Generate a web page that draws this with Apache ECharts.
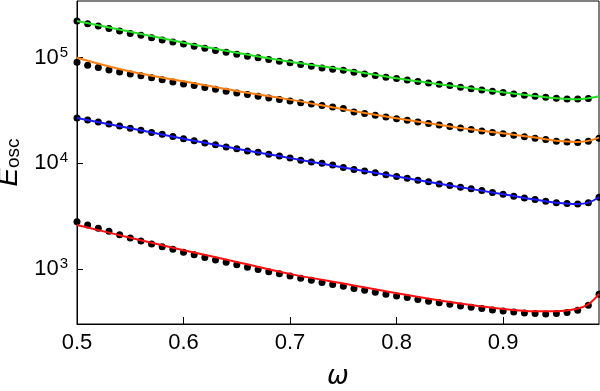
<!DOCTYPE html>
<html>
<head>
<meta charset="utf-8">
<script src="https://cdn.jsdelivr.net/npm/echarts@6/dist/echarts.min.js"></script>
<style>
  html, body { margin: 0; padding: 0; background: #fff; }
  #chart { width: 600px; height: 391px; }
</style>
</head>
<body>
<div id="chart"></div>
<script>
// sample points (black dots), omega = 0.50 ... 0.99
const dotX = [0.50, 0.51, 0.52, 0.53, 0.54, 0.55, 0.56, 0.57, 0.58, 0.59,
  0.60, 0.61, 0.62, 0.63, 0.64, 0.65, 0.66, 0.67, 0.68, 0.69,
  0.70, 0.71, 0.72, 0.73, 0.74, 0.75, 0.76, 0.77, 0.78, 0.79,
  0.80, 0.81, 0.82, 0.83, 0.84, 0.85, 0.86, 0.87, 0.88, 0.89,
  0.90, 0.91, 0.92, 0.93, 0.94, 0.95, 0.96, 0.97, 0.98, 0.99];

// green set has no dot at 0.99
const greenDots = [221000, 208000, 198000, 188000, 178000, 169000, 162000, 154000, 146000, 140000,
  134000, 128000, 122000, 116500, 112000, 107500, 103000, 99300, 95700, 92300,
  89100, 85900, 82800, 79800, 77400, 75800, 72600, 70000, 67500, 65000,
  63200, 61400, 59200, 57500, 55800, 54300, 52300, 50800, 49400, 48000,
  46600, 45300, 44000, 43000, 42100, 41100, 40600, 40600, 40900];
const orangeDots = [90300, 84500, 80400, 76400, 73100, 70000, 67100, 64200, 61500, 58800,
  56300, 54300, 52000, 50100, 48000, 46300, 44600, 43000, 41500, 40000,
  38900, 37400, 36400, 35100, 34000, 32900, 30500, 29500, 28400, 27400,
  26400, 25500, 24600, 23800, 23000, 22300, 21600, 20900, 20200, 19600,
  19000, 18400, 17800, 17300, 16800, 16200, 15900, 15700, 16200, 17300];
const blueDots = [26800, 25700, 24600, 23500, 22500, 21400, 20500, 19600, 18800, 17900,
  17100, 16300, 15600, 15000, 14300, 13700, 13100, 12700, 12200, 11700,
  11200, 10700, 10300, 10000, 9620, 9120, 8730, 8440, 8130, 7780,
  7500, 7240, 6930, 6680, 6390, 6160, 5950, 5740, 5520, 5290,
  5110, 4890, 4710, 4540, 4380, 4250, 4160, 4130, 4250, 4780];
const redDots = [2810, 2610, 2430, 2280, 2110, 1970, 1840, 1730, 1630, 1540,
  1440, 1370, 1290, 1220, 1160, 1100, 1040, 993, 943, 902,
  859, 822, 787, 748, 716, 690, 656, 632, 605, 580,
  558, 539, 516, 497, 480, 466, 449, 436, 424, 411,
  403, 394, 385, 380, 377, 380, 389, 409, 456, 580];

// fitted curves
const lineX = [0.50, 0.55, 0.60, 0.65, 0.70, 0.75, 0.80, 0.85, 0.90, 0.93, 0.95, 0.97, 0.98, 0.99];
const greenLine = [221000, 175000, 138000, 111000, 91100, 77000, 63600, 54300, 46900, 43300, 41200, 40300, 41200, 43000];
const orangeLine = [99300, 73600, 59600, 48300, 40000, 32400, 26600, 22300, 19200, 17500, 16300, 15900, 16300, 17500];
const blueLine = [26800, 21400, 17100, 13700, 11200, 9120, 7500, 6160, 5110, 4540, 4250, 4130, 4250, 4780];
const redLine = [2610, 1980, 1510, 1170, 902, 732, 593, 490, 421, 400, 400, 424, 466, 580];

const xTicks = [0.5, 0.6, 0.7, 0.8, 0.9];

const FONT = 'Liberation Sans';

function pairs(xs, ys) {
  return ys.map((y, i) => [xs[i], y]);
}

function dotSeries(ys) {
  return {
    type: 'scatter',
    data: pairs(dotX, ys),
    symbol: 'circle',
    symbolSize: 7,
    itemStyle: { color: '#000', opacity: 1 },
    z: 2,
    silent: true
  };
}

function curveSeries(ys, color) {
  return {
    type: 'line',
    data: pairs(lineX, ys),
    smooth: 0.4,
    showSymbol: false,
    lineStyle: { color: color, width: 2 },
    z: 3,
    silent: true
  };
}

const chart = echarts.init(document.getElementById('chart'), null, { renderer: 'canvas' });

chart.setOption({
  animation: false,
  backgroundColor: '#fff',
  grid: {
    left: 77, right: 1, top: 1, bottom: 67,
    outerBoundsMode: 'none',
    containLabel: false,
    show: true, borderColor: '#000', borderWidth: 1
  },
  xAxis: {
    type: 'value',
    min: 0.5,
    max: 0.99,
    interval: 0.1,
    name: 'ω',
    nameLocation: 'middle',
    nameGap: 40,
    nameTextStyle: { fontFamily: 'DejaVu Sans', fontStyle: 'italic', fontSize: 26, color: '#000' },
    axisLine: { show: true, lineStyle: { color: '#000', width: 1 } },
    axisTick: { show: true, inside: true, length: 7, lineStyle: { color: '#000' } },
    splitLine: { show: false },
    axisLabel: {
      fontFamily: FONT, fontSize: 22, color: '#000', margin: 8,
      showMaxLabel: false,
      formatter: v => (xTicks.some(t => Math.abs(t - v) < 1e-6) ? v.toFixed(1) : '')
    }
  },
  yAxis: {
    type: 'log',
    logBase: 10,
    min: 303,
    max: 342000,
    name: '{e|E}{s|osc}',
    nameLocation: 'middle',
    nameRotate: 90,
    nameGap: 50,
    nameTextStyle: {
      rich: {
        e: { fontFamily: FONT, fontStyle: 'italic', fontSize: 28, color: '#000' },
        s: { fontFamily: FONT, fontSize: 19, color: '#000', verticalAlign: 'bottom', padding: [7, 0, 0, 0] }
      }
    },
    axisLine: { show: true, lineStyle: { color: '#000', width: 1 } },
    axisTick: { show: true, inside: true, length: 6, lineStyle: { color: '#000' } },
    splitLine: { show: false },
    minorTick: { show: false },
    axisLabel: {
      showMinLabel: false,
      showMaxLabel: false,
      margin: 9,
      formatter: v => {
        const p = Math.log10(v);
        if (Math.abs(p - Math.round(p)) > 1e-6) return '';
        return '{b|10}{p|' + Math.round(p) + '}';
      },
      rich: {
        b: { fontFamily: FONT, fontSize: 22, color: '#000' },
        p: { fontFamily: FONT, fontSize: 15, color: '#000', verticalAlign: 'top', padding: [0, 0, 10, 1] }
      }
    }
  },
  series: [
    dotSeries(greenDots),
    dotSeries(orangeDots),
    dotSeries(blueDots),
    dotSeries(redDots),
    curveSeries(greenLine, '#22e022'),
    curveSeries(orangeLine, '#ff8010'),
    curveSeries(blueLine, '#1a1aff'),
    curveSeries(redLine, '#ff1010')
  ]
});
</script>
</body>
</html>
